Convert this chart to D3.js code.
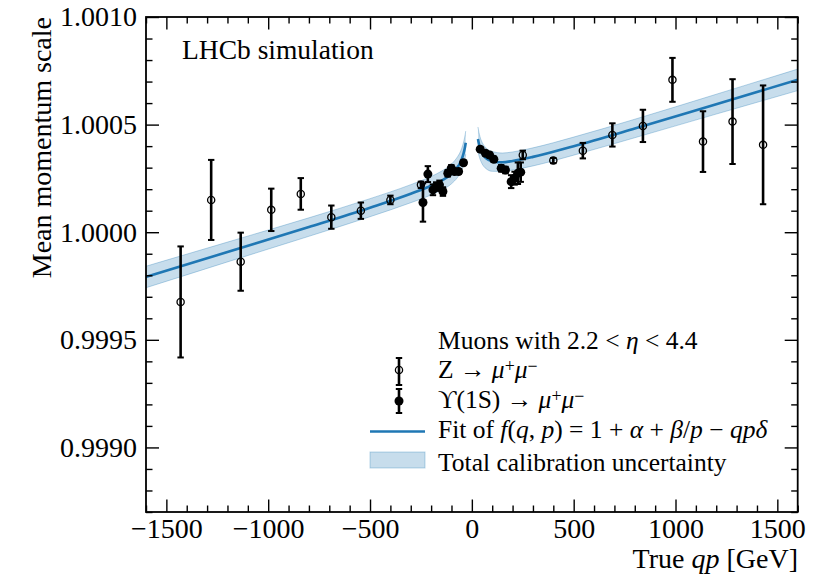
<!DOCTYPE html>
<html><head><meta charset="utf-8">
<script src="https://cdn.jsdelivr.net/npm/d3@7"></script>
<style>
body{margin:0;background:#fff}
svg{display:block}
text{font-family:"Liberation Serif","Times New Roman",serif;fill:#000}
</style>
</head><body>
<svg id="c" width="826" height="575"></svg>
<script>
// ---- data ----
const zQp  = [-1430,-1280,-1135,-985,-840,-690,-545,-400,-250,250,400,545,690,840,985,1135,1280,1430];
const zVal = [0.999676,1.000150,0.999863,1.000104,1.000178,1.000070,1.000100,1.000150,1.000220,
              1.000359,1.000333,1.000379,1.000452,1.000494,1.000708,1.000421,1.000514,1.000406];
const zErr = [0.000258,0.000186,0.000135,0.0000985,0.0000735,0.000054,0.000038,0.000020,0.000015,
              0.000020,0.000012,0.000036,0.000054,0.000075,0.000102,0.000141,0.000197,0.000276];

const upsQp  = [-240,-216,-191,-175,-159,-142,-118,-101,-85,-65,-41,
                41,67,87,108,144,165,193,210,226,240];
const upsVal = [1.000138,1.000270,1.000197,1.000212,1.000220,1.000189,1.000274,1.000297,1.000282,1.000282,1.000323,
                1.000386,1.000367,1.000359,1.000339,1.000297,1.000289,1.000235,1.000251,1.000274,1.000279];
const upsErr = [0.000089,0.000037,0.000025,0.000020,0.000020,0.000020,0.000015,0.000015,0.000010,0.000010,0.000010,
                0.000010,0.000010,0.000010,0.000012,0.000015,0.000015,0.000030,0.000030,0.000050,0.000045];

const fitNegQp  = [-1600,-1200,-800,-500,-300,-200,-150,-100,-70,-60,-50,-40,-35,-30];
const fitNegVal = [0.999792,0.999908,1.000024,1.000114,1.000179,1.000216,1.000239,1.000271,1.000303,1.000318,1.000339,1.000369,1.000389,1.000416];
const fitNegErr = [0.000050,0.000046,0.000043,0.000042,0.000042,0.000043,0.000044,0.000046,0.000048,0.000049,0.000050,0.000052,0.000053,0.000054];

const fitPosQp  = [30,35,40,50,60,70,100,150,200,300,500,800,1200,1600];
const fitPosVal = [1.000433,1.000409,1.000392,1.000368,1.000353,1.000343,1.000329,1.000325,1.000331,1.000350,1.000400,1.000482,1.000595,1.000708];
const fitPosErr = [0.000056,0.000054,0.000052,0.000050,0.000049,0.000048,0.000046,0.000043,0.000042,0.000042,0.000042,0.000043,0.000046,0.000050];

const xTicks = [-1500,-1000,-500,0,500,1000,1500];
const yTicks = [0.9990,0.9995,1.0000,1.0005,1.0010];
const xDomain = [-1600,1600];
const yDomain = [0.9987,1.0010];

// ---- layout ----
const L = 146, R = 797.7, T = 17, B = 512;
const svg = d3.select("#c");
const x = d3.scaleLinear().domain(xDomain).range([L,R]);
const y = d3.scaleLinear().domain(yDomain).range([B,T]);
const blue = "#1f77b4";

// band + fit
const bandGen = d3.area().x(d=>x(d.q)).y0(d=>y(d.v-d.e)).y1(d=>y(d.v+d.e)).curve(d3.curveMonotoneX);
const lineOf = f => d3.line().x(d=>x(d.q)).y(f).curve(d3.curveMonotoneX);
const branches = [
  fitNegQp.map((q,i)=>({q, v:fitNegVal[i], e:fitNegErr[i]})),
  fitPosQp.map((q,i)=>({q, v:fitPosVal[i], e:fitPosErr[i]}))
];
const plot = svg.append("g");
branches.forEach(br=>{
  plot.append("path").attr("d",bandGen(br)).attr("fill",blue).attr("fill-opacity",0.25).attr("stroke","none");
  plot.append("path").attr("d",lineOf(d=>y(d.v+d.e))(br)).attr("fill","none").attr("stroke",blue).attr("stroke-opacity",0.3).attr("stroke-width",1);
  plot.append("path").attr("d",lineOf(d=>y(d.v-d.e))(br)).attr("fill","none").attr("stroke",blue).attr("stroke-opacity",0.3).attr("stroke-width",1);
  plot.append("path").attr("d",lineOf(d=>y(d.v))(br)).attr("fill","none").attr("stroke",blue).attr("stroke-width",2.6);
});

// error bars
function errbars(qs, vs, es, filled){
  const g = plot.append("g");
  qs.forEach((q,i)=>{
    const cx = x(q), y0 = y(vs[i]-es[i]), y1 = y(vs[i]+es[i]);
    g.append("line").attr("x1",cx).attr("x2",cx).attr("y1",y0).attr("y2",y1).attr("stroke","#000").attr("stroke-width",2.6);
    [y0,y1].forEach(yy=>g.append("line").attr("x1",cx-3.2).attr("x2",cx+3.2).attr("y1",yy).attr("y2",yy).attr("stroke","#000").attr("stroke-width",2));
    g.append("circle").attr("cx",cx).attr("cy",y(vs[i])).attr("r",filled?4.5:3.6)
      .attr("fill",filled?"#000":"none").attr("stroke","#000").attr("stroke-width",filled?0:1.3);
  });
}
errbars(zQp,zVal,zErr,false);
errbars(upsQp,upsVal,upsErr,true);

// axes
const tfs = 28;
function styleAxis(g){
  g.select(".domain").remove();
  g.selectAll(".tick line").attr("stroke","#000").attr("stroke-width",1.4);
  g.selectAll("text").attr("font-size",tfs).attr("font-family",'"Liberation Serif","Times New Roman",serif');
}
const xMinor = d3.range(-1600,1601,100).filter(v=>!xTicks.includes(v));
const yMinor = d3.range(0.9987,1.00101,0.0001).map(v=>+v.toFixed(4)).filter(v=>!yTicks.some(t=>Math.abs(t-v)<1e-9));

svg.append("g").attr("transform",`translate(0,${B})`).call(d3.axisBottom(x).tickValues(xTicks).tickSize(-12.5).tickPadding(6).tickFormat(d3.format("d"))).call(styleAxis);
svg.append("g").attr("transform",`translate(0,${B})`).call(d3.axisBottom(x).tickValues(xMinor).tickSize(-6.5).tickFormat("")).call(styleAxis);
svg.append("g").attr("transform",`translate(0,${T})`).call(d3.axisTop(x).tickValues(xTicks).tickSize(-12.5).tickFormat("")).call(styleAxis);
svg.append("g").attr("transform",`translate(0,${T})`).call(d3.axisTop(x).tickValues(xMinor).tickSize(-6.5).tickFormat("")).call(styleAxis);
svg.append("g").attr("transform",`translate(${L},0)`).call(d3.axisLeft(y).tickValues(yTicks).tickSize(-13).tickPadding(9).tickFormat(d3.format(".4f"))).call(styleAxis);
svg.append("g").attr("transform",`translate(${L},0)`).call(d3.axisLeft(y).tickValues(yMinor).tickSize(-6.5).tickFormat("")).call(styleAxis);
svg.append("g").attr("transform",`translate(${R},0)`).call(d3.axisRight(y).tickValues(yTicks).tickSize(-13).tickFormat("")).call(styleAxis);
svg.append("g").attr("transform",`translate(${R},0)`).call(d3.axisRight(y).tickValues(yMinor).tickSize(-6.5).tickFormat("")).call(styleAxis);

svg.append("rect").attr("x",L).attr("y",T).attr("width",R-L).attr("height",B-T).attr("fill","none").attr("stroke","#000").attr("stroke-width",1.8);

// axis titles
const fs = 28;
const xt = svg.append("text").attr("x",798).attr("y",568).attr("text-anchor","end").attr("font-size",fs);
xt.append("tspan").text("True ");
xt.append("tspan").attr("font-style","italic").text("qp");
xt.append("tspan").text(" [GeV]");
svg.append("text").attr("transform","translate(51,17) rotate(-90)").attr("text-anchor","end").attr("font-size",fs).text("Mean momentum scale");

svg.append("text").attr("x",182).attr("y",59).attr("font-size",27.5).text("LHCb simulation");

// legend
const lg = svg.append("g");
const lfs = 25.5, tx = 438;
function addText(yy, parts){
  const t = lg.append("text").attr("x",tx).attr("y",yy).attr("font-size",lfs);
  parts.forEach(p=>{
    const s = t.append("tspan").text(p.t);
    if(p.i) s.attr("font-style","italic");
    if(p.small) s.attr("font-size",lfs*0.7);
    if(p.dy) s.attr("dy",p.dy);
  });
  return t;
}
const muPair = [{t:"μ",i:1},{t:"+",small:1,dy:-6},{t:"μ",i:1,dy:6},{t:"−",small:1,dy:-6}];
addText(349,[{t:"Muons with 2.2 < "},{t:"η",i:1},{t:" < 4.4"}]);
addText(378,[{t:"Z → "}].concat(muPair));
addText(408,[{t:"ϒ(1S) → "}].concat(muPair));
addText(438,[{t:"Fit of "},{t:"f",i:1},{t:"("},{t:"q",i:1},{t:", "},{t:"p",i:1},{t:") = 1 + "},{t:"α",i:1},{t:" + "},{t:"β",i:1},{t:"/"},{t:"p",i:1},{t:" − "},{t:"qpδ",i:1}]);
addText(471,[{t:"Total calibration uncertainty"}]);
// handles
function legBar(cy, y0, y1, filled){
  const cx = 399;
  lg.append("line").attr("x1",cx).attr("x2",cx).attr("y1",y0).attr("y2",y1).attr("stroke","#000").attr("stroke-width",2.6);
  [y0,y1].forEach(yy=>lg.append("line").attr("x1",cx-3.2).attr("x2",cx+3.2).attr("y1",yy).attr("y2",yy).attr("stroke","#000").attr("stroke-width",2));
  lg.append("circle").attr("cx",cx).attr("cy",cy).attr("r",filled?4.5:3.6).attr("fill",filled?"#000":"none").attr("stroke","#000").attr("stroke-width",filled?0:1.3);
}
legBar(370,358,385,false);
legBar(401,389,413,true);
lg.append("line").attr("x1",370).attr("x2",425).attr("y1",431.5).attr("y2",431.5).attr("stroke",blue).attr("stroke-width",2.6);
lg.append("rect").attr("x",370).attr("y",452).attr("width",55).attr("height",16).attr("fill",blue).attr("fill-opacity",0.25).attr("stroke",blue).attr("stroke-opacity",0.3);
</script>
</body></html>
